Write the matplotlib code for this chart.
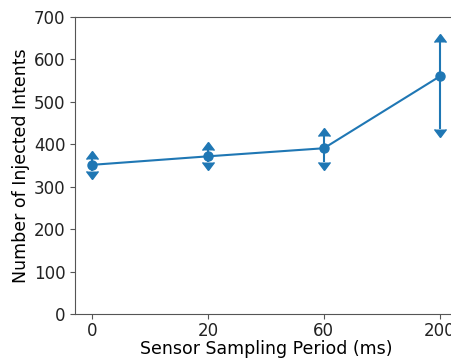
import matplotlib
matplotlib.use("Agg")
from matplotlib import pyplot as plt
from matplotlib import markers
import numpy as np

periods = ['0', '20', '60', '200']
intents = [352, 372, 391, 560]
lower = [338, 359, 358, 436]
upper = [366, 388, 421, 642]

fig = plt.figure(figsize=(4.52, 3.58), dpi=100)
ax = fig.add_axes([0.166, 0.122, 0.845, 0.8305])

x = np.arange(len(periods))
y = np.array(intents)
yerr = [y - np.array(lower), np.array(upper) - y]
ax.errorbar(x, y, yerr=yerr, fmt='-o', color='#1f77b4', markersize=6.5)
# arrow heads at the ends of the range
ax.plot(x, upper, linestyle='none', marker=markers.CARETUPBASE, markersize=8,
        color='#1f77b4')
ax.plot(x, lower, linestyle='none', marker=markers.CARETDOWNBASE, markersize=8,
        color='#1f77b4')

ax.set_xticks(x)
ax.set_xticklabels(periods)
ax.set_ylim(0, 700)
ax.set_xlim(-0.15, 3.15)
for s in ax.spines.values():
    s.set_color('#555555')
ax.tick_params(labelsize=12, colors='#555555', labelcolor='#222222')
ax.tick_params(axis='x', pad=2)
ax.set_xlabel('Sensor Sampling Period (ms)', fontsize=12.5, labelpad=0)
ax.set_ylabel('Number of Injected Intents', fontsize=12.5, labelpad=3)

fig.savefig('out.png', dpi=100)
